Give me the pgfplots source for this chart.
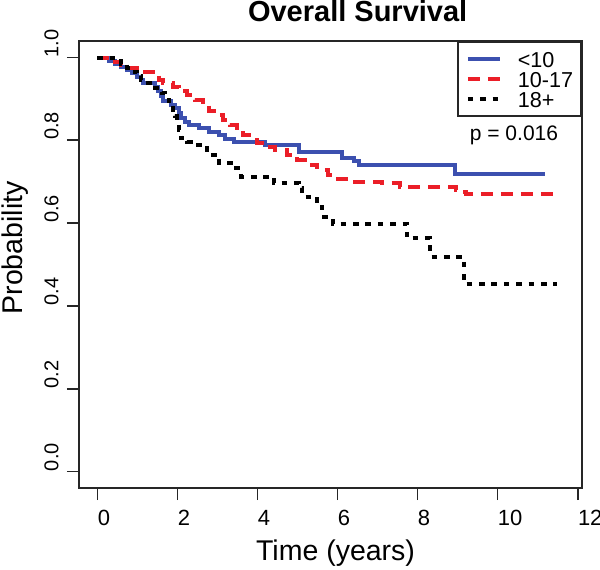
\documentclass[border=0pt]{standalone}
\usepackage{fontspec}
\setmainfont{Liberation Sans}
\usepackage{pgfplots}
\pgfplotsset{compat=1.18}
\definecolor{kmblue}{RGB}{60,80,175}
\definecolor{kmred}{RGB}{235,30,40}
\begin{document}
\begin{tikzpicture}
\begin{axis}[
  name=km,
  scale only axis, width=251.5pt, height=223.5pt,
  xmin=-0.46, xmax=12.11, ymin=-0.04, ymax=1.04,
  axis line style={line width=0.9pt, black!85},
  xtick={0,2,4,6,8,10,12}, ytick={0,0.2,0.4,0.6,0.8,1.0},
  tick align=outside, major tick length=6pt,
  tick style={line width=0.9pt, black!85},
  xtick pos=left, ytick pos=left,
  /pgf/number format/assume math mode=true,
  xticklabel style={anchor=north west, inner sep=0pt, font=\fontsize{11}{13}\selectfont},
  xticklabel shift=5pt,
  yticklabel style={/pgf/number format/fixed, /pgf/number format/fixed zerofill, /pgf/number format/precision=1, rotate=90, anchor=south west, inner sep=0pt, font=\fontsize{10}{12}\selectfont},
  yticklabel shift=4pt,
  xlabel={Time (years)},
  xlabel style={at={(axis description cs:0.51,-0.163)}, anchor=base, font=\fontsize{14.25}{17}\selectfont},
  ylabel={Probability},
  ylabel style={at={(axis description cs:-0.1133,0.537)}, anchor=base, rotate=0, font=\fontsize{14.25}{17}\selectfont},
  title={Overall Survival},
  title style={at={(axis description cs:0.554,1)}, anchor=base, yshift=3.65pt, font=\bfseries\fontsize{14.5}{17}\selectfont},
  legend style={at={(1,1)}, anchor=north east, draw=black!85, line width=0.9pt, font=\fontsize{10.8}{12}\selectfont,
    inner xsep=4pt, inner ysep=3.6pt, row sep=0pt,
    nodes={inner xsep=0pt, inner ysep=0pt, text height=9.4pt, text depth=0.6pt},
    /tikz/every odd column/.append style={column sep=8pt}},
  legend cell align=left,
  legend image code/.code={\draw[#1] (0pt,0pt) -- (16pt,0pt);},
]
\addplot[const plot, kmblue, line width=2pt] coordinates {
(0,1.000) (0.30,0.992) (0.45,0.985) (0.60,0.977) (0.75,0.969) (0.87,0.962)
(0.98,0.954) (1.08,0.946) (1.15,0.938) (1.45,0.930) (1.52,0.918) (1.58,0.906)
(1.64,0.894) (1.85,0.886) (1.95,0.878) (2.03,0.866) (2.10,0.855) (2.20,0.845)
(2.30,0.837) (2.55,0.829) (2.80,0.821) (3.05,0.813) (3.20,0.803) (3.41,0.797)
(4.20,0.789) (5.03,0.773) (6.11,0.757) (6.40,0.750) (6.53,0.740) (8.94,0.719)
(11.19,0.719)
};
\addlegendentry{<10}
\addplot[const plot, kmred, line width=2pt, dash pattern=on 6pt off 4pt] coordinates {
(0,1.000) (0.45,0.990) (0.60,0.982) (0.74,0.974) (1.00,0.966) (1.40,0.958)
(1.55,0.946) (1.65,0.938) (1.90,0.930) (2.05,0.918) (2.25,0.910) (2.45,0.898)
(2.65,0.886) (2.80,0.872) (3.00,0.861) (3.15,0.849) (3.32,0.837) (3.50,0.825)
(3.65,0.813) (3.80,0.801) (4.00,0.793) (4.20,0.785) (4.45,0.777) (4.75,0.765)
(5.00,0.752) (5.25,0.740) (5.50,0.728) (5.75,0.716) (6.00,0.706) (6.30,0.700)
(7.10,0.696) (7.55,0.688) (8.95,0.680) (9.07,0.676) (9.20,0.670) (11.52,0.670)
};
\addlegendentry{10-17}
\addplot[const plot, black, line width=2pt, dash pattern=on 2.8pt off 3.4pt] coordinates {
(0,1.000) (0.45,0.992) (0.60,0.985) (0.75,0.975) (0.87,0.966) (1.00,0.955)
(1.10,0.945) (1.16,0.938) (1.45,0.926) (1.62,0.914) (1.70,0.898) (1.80,0.886)
(1.88,0.874) (1.95,0.858) (2.00,0.842) (2.04,0.826) (2.08,0.806) (2.25,0.797)
(2.45,0.789) (2.75,0.765) (3.05,0.745) (3.35,0.732) (3.60,0.712) (4.42,0.696)
(5.03,0.686) (5.12,0.664) (5.49,0.640) (5.62,0.615) (5.88,0.599) (7.73,0.563)
(8.32,0.519) (9.15,0.454) (11.48,0.454)
};
\addlegendentry{18+}
\node[font=\fontsize{10.5}{12}\selectfont] at (axis cs:10.41,0.813) {p = 0.016};
\end{axis}
\pgfresetboundingbox
\path[use as bounding box] ([shift={(-39.5pt,-40.5pt)}]km.south west) rectangle ([shift={(9pt,20.5pt)}]km.north east);
\end{tikzpicture}
\end{document}
